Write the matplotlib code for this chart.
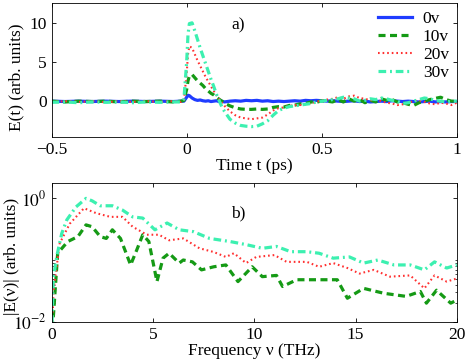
import matplotlib
matplotlib.use("Agg")
import matplotlib.pyplot as plt
import numpy as np

plt.rcParams['font.family'] = ['Liberation Serif', 'DejaVu Serif']
plt.rcParams['mathtext.fontset'] = 'stix'
plt.rcParams['font.size'] = 12.5

# time domain traces (ps, arb. units)
t = [-0.5, -0.45, -0.4, -0.35, -0.3, -0.25, -0.2, -0.15, -0.1, -0.05, -0.02, -0.01,
     0.0, 0.005, 0.01, 0.02, 0.03, 0.04, 0.05, 0.06, 0.07, 0.08, 0.09, 0.10, 0.11,
     0.12, 0.13, 0.14, 0.16, 0.18, 0.20, 0.22, 0.24, 0.26, 0.28, 0.30, 0.32, 0.34,
     0.36, 0.38, 0.40, 0.42, 0.44, 0.46, 0.48, 0.50, 0.52, 0.54, 0.56, 0.58, 0.60,
     0.62, 0.64, 0.66, 0.68, 0.70, 0.72, 0.74, 0.76, 0.78, 0.80, 0.82, 0.84, 0.86,
     0.88, 0.90, 0.92, 0.94, 0.96, 0.98, 1.0]

e_0v = [0.0, -0.05, 0.0, -0.05, 0.0, -0.05, 0.0, -0.05, 0.0, -0.05, 0.0, 0.0,
        0.5, 0.75, 0.7, 0.4, 0.2, 0.1, 0.15, 0.05,
        0.0, 0.05, -0.05, 0.0, 0.05, -0.05, 0.0, -0.1, 0.0, 0.05, 0.0, 0.1, 0.05,
        0.1, 0.0, 0.05, -0.05, 0.0, -0.05, 0.0, 0.05, 0.0, 0.1, 0.05, 0.1, 0.05,
        0.0, 0.05, 0.0, -0.05, 0.0, 0.05, -0.05, 0.0, -0.1, -0.05, 0.0, -0.05,
        0.05, 0.0, -0.05, 0.0, -0.05, -0.1, -0.05, 0.0, -0.1, -0.05, -0.1, -0.05, -0.05]

e_10v = [0.0, -0.1, 0.0, -0.05, 0.0, -0.1, 0.0, -0.05, 0.0, -0.1, 0.0, 0.1,
         1.5, 2.6, 3.2, 3.4, 3.0, 2.6, 2.3, 2.0,
         1.6, 1.3, 1.0, 0.8, 0.5, 0.25, 0.0, -0.25, -0.6, -0.85, -1.0, -1.05, -1.05,
         -1.0, -1.05, -1.0, -0.8, -0.7, -0.75, -0.55, -0.5, -0.35, -0.3, -0.1, -0.15, 0.05,
         0.0, -0.1, 0.2, -0.1, 0.3, 0.0, 0.2, -0.2, 0.1, -0.1, 0.3, 0.1,
         0.2, -0.1, -0.2, -0.4, -0.55, -0.2, 0.0, 0.2, 0.35, 0.5, 0.2, 0.0, 0.0]

e_20v = [-0.1, 0.0, -0.1, 0.0, -0.15, 0.0, -0.1, 0.0, -0.1, 0.0, -0.1, 0.2,
         3.5, 6.0, 7.0, 6.8, 6.0, 5.2, 4.5, 3.8,
         3.1, 2.5, 1.9, 1.3, 0.8, 0.3, -0.2, -0.6, -1.3, -1.8, -2.1, -2.2, -2.3,
         -2.2, -2.1, -1.7, -1.2, -0.9, -0.8, -0.6, -0.5, -0.5, -0.4, -0.3, -0.1, 0.1,
         0.2, 0.3, 0.5, 0.3, 0.6, 0.7, 0.4, 0.3, 0.1, 0.2, 0.0, -0.2,
         -0.3, -0.5, -0.4, -0.2, 0.0, 0.1, -0.1, -0.3, -0.4, -0.2, -0.3, -0.5, -0.2]

e_30v = [-0.15, -0.1, -0.2, -0.1, -0.15, -0.1, -0.2, -0.1, -0.15, -0.1, -0.1, 0.3,
         5.0, 8.5, 9.9, 10.0, 9.0, 7.9, 6.8, 5.8,
         4.8, 3.8, 2.8, 1.9, 0.9, 0.1, -0.7, -1.3, -2.3, -2.8, -3.1, -3.2, -3.25,
         -3.2, -2.9, -2.5, -1.8, -1.2, -0.9, -0.7, -0.6, -0.5, -0.4, -0.3, -0.1, 0.0,
         0.1, 0.2, 0.3, 0.5, 0.4, 0.3, 0.0, 0.1, 0.3, 0.2, 0.4, 0.3,
         0.1, 0.0, -0.3, -0.2, 0.0, 0.2, 0.4, 0.3, 0.1, 0.0, -0.1, 0.0, 0.0]

# spectra, log10 of |E(nu)|
f_10v = [0, 0.1, 0.3, 0.8, 1.3, 1.7, 2.0, 2.4, 2.7, 3.0, 3.4, 3.9, 4.2, 4.5, 4.8, 5.2,
         5.5, 5.8, 6.3, 6.5, 6.95, 7.4, 8.0, 8.6, 9.2, 9.9, 10.4, 11.1, 11.4, 12.1,
         13.2, 14.1, 14.6, 15.4, 16.4, 17.5, 18.2, 18.5, 19.0, 19.7, 20.0]
s_10v = [-2.3, -1.86, -0.89, -0.70, -0.62, -0.43, -0.46, -0.62, -0.65, -0.51, -0.65,
         -1.08, -0.84, -0.59, -0.70, -1.35, -0.97, -0.89, -1.05, -1.0, -1.03, -1.16,
         -1.11, -1.08, -1.35, -1.11, -1.27, -1.25, -1.43, -1.32, -1.32, -1.32, -1.62,
         -1.46, -1.54, -1.59, -1.51, -1.70, -1.49, -1.70, -1.65]

f_20v = [0, 0.1, 0.4, 0.9, 1.6, 2.2, 2.9, 3.5, 4.0, 4.7, 5.3, 5.8, 6.5, 7.3, 8.0, 8.6,
         9.0, 9.6, 10.1, 11.0, 11.6, 12.6, 13.2, 13.9, 14.6, 15.2, 15.9, 16.7, 17.7,
         18.4, 18.9, 19.5, 20.0]
s_20v = [-2.3, -1.49, -0.73, -0.41, -0.16, -0.24, -0.30, -0.30, -0.46, -0.59, -0.59,
         -0.68, -0.65, -0.81, -0.87, -0.95, -0.89, -1.05, -0.95, -0.92, -1.03, -1.03,
         -1.11, -1.05, -1.13, -1.22, -1.16, -1.27, -1.25, -1.46, -1.25, -1.35, -1.30]

f_30v = [0, 0.08, 0.25, 0.5, 0.75, 1.2, 1.7, 2.0, 2.4, 3.0, 3.5, 4.0, 4.5, 5.1, 5.7,
         6.3, 7.0, 7.8, 8.8, 9.6, 10.4, 11.1, 11.8, 12.6, 13.2, 13.9, 14.7, 15.4,
         16.1, 16.9, 17.7, 18.4, 18.9, 19.5, 20.0]
s_30v = [-2.3, -1.32, -0.95, -0.57, -0.35, -0.14, 0.0, -0.04, -0.12, -0.12, -0.19,
         -0.30, -0.32, -0.51, -0.40, -0.51, -0.54, -0.65, -0.70, -0.75, -0.81, -0.78,
         -0.865, -0.865, -0.89, -0.97, -0.95, -1.05, -1.0, -1.08, -1.08, -1.16, -1.03,
         -1.13, -1.08]

labels = ['0v', '10v', '20v', '30v']
c_blue = '#1f3cff'
c_green = '#159a15'
c_red = '#ff3030'
c_cyan = '#3cf0b0'

fig = plt.figure(figsize=(4.69, 3.61), dpi=100)
ax1 = fig.add_axes([0.110, 0.620, 0.864, 0.371])
ax2 = fig.add_axes([0.110, 0.109, 0.864, 0.383])

ax1.plot(t, e_0v, color=c_blue, lw=2.3, label=labels[0])
ax1.plot(t, e_10v, color=c_green, lw=2.3, dashes=(2.2, 1.4), label=labels[1])
ax1.plot(t, e_20v, color=c_red, lw=1.5, dashes=(0.8, 1.4), label=labels[2])
ax1.plot(t, e_30v, color=c_cyan, lw=2.3, dashes=(2.4, 1.2, 0.6, 1.2), label=labels[3])
ax1.set_xlim(-0.5, 1)
ax1.set_ylim(-4.6, 12.5)
ax1.set_xticks([-0.5, 0, 0.5, 1])
ax1.set_xticklabels(['\u22120.5', '0', '0.5', '1'])
ax1.set_yticks([0, 5, 10])
ax1.set_xlabel('Time t (ps)', labelpad=0)
ax1.set_ylabel('E(t) (arb. units)')
ax1.yaxis.set_label_coords(-0.066, 0.45)
ax1.text(0.19, 9.7, 'a)', ha='center', va='center')
ax1.legend(loc='upper right', frameon=False, handlelength=2.0, handletextpad=0.6,
           labelspacing=0.1, borderaxespad=0.15, borderpad=0.3)

ax2.plot(f_10v, 10 ** np.array(s_10v), color=c_green, lw=2.3, dashes=(2.2, 1.4))
ax2.plot(f_20v, 10 ** np.array(s_20v), color=c_red, lw=1.5, dashes=(0.8, 1.4))
ax2.plot(f_30v, 10 ** np.array(s_30v), color=c_cyan, lw=2.3, dashes=(2.4, 1.2, 0.6, 1.2))
ax2.set_yscale('log')
ax2.set_xlim(0, 20)
ax2.set_ylim(1e-2, 1.75)
ax2.set_xticks([0, 5, 10, 15, 20])
ax2.set_yticks([1e-2, 1])
ax2.set_yticklabels(['$10^{-2}$', '$10^{0}$'])
ax2.set_yticks([k * 1e-2 for k in range(2, 11)], minor=True)
ax2.set_yticklabels([], minor=True)
ax2.set_xlabel('Frequency \u03bd (THz)', labelpad=0)
ax2.set_ylabel('|E(\u03bd)| (arb. units)')
ax2.yaxis.set_label_coords(-0.078, 0.475)
ax2.text(9.2, 0.58, 'b)', ha='center', va='center')

for ax in (ax1, ax2):
    ax.tick_params(direction='in', top=True, right=True, length=3, width=0.6)
    ax.tick_params(which='minor', direction='in', right=True, length=1.8, width=0.5)
    for s in ax.spines.values():
        s.set_linewidth(0.6)

fig.savefig('out.png', dpi=100)
